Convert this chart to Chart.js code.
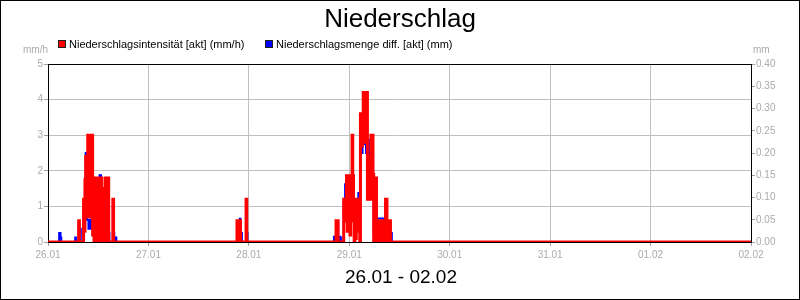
<!DOCTYPE html>
<html>
<head>
<meta charset="utf-8">
<title>Niederschlag</title>
<script src="https://cdn.jsdelivr.net/npm/chart.js@4.4.1/dist/chart.umd.min.js"></script>
<style>
  html, body { margin: 0; padding: 0; background: #fff; }
  #wrap { width: 800px; height: 300px; }
</style>
</head>
<body>
<div id="wrap"><canvas id="rainChart" width="800" height="300"></canvas></div>
<script>
// Niederschlag 26.01 - 02.02, 10-Minuten-Werte (x in Stunden ab 26.01 00:00)

const chartTitle = 'Niederschlag';
const periodLabel = '26.01 - 02.02';
const dayLabels = ['26.01', '27.01', '28.01', '29.01', '30.01', '31.01', '01.02', '02.02'];
const seriesNames = ['Niederschlagsintensität [akt] (mm/h)', 'Niederschlagsmenge diff. [akt] (mm)'];
const STEP_H = 1 / 6;

// Ereignis 1 (26.01 vormittags), ab Messwert 14
const ev1Start = 14;
const ev1Intensity = [
    0, 0, 0, 0, 0, 0, 0, 0, 0, 0, 0, 0, 0, 0, 0, 0, 0, 0, 0, 0, 0, 0, 0, 0, 0, 0, 0, 0, 0, 0,
    0.6, 0, 0, 0, 0, 0, 0,
    1.2, 0.3, 1.75, 2.4, 1.75, 0.7, 3.0, 0.7, 3.0, 1.0, 3.0, 0.7, 3.0, 0.2, 1.8, 0, 1.8, 0.3,
    1.8, 0, 1.8, 0.6, 1.8, 0, 0, 1.8, 0.3, 1.5, 0, 1.5, 0.6, 1.8, 0, 1.8, 0.3, 1.8,
    0, 0, 0, 0, 0, 0, 1.2, 0, 0, 0, 0, 0, 0, 0, 0
];
const ev1Amount = [
    0, 0, 0.02, 0.02, 0.01,
    0, 0, 0, 0, 0, 0, 0, 0, 0, 0, 0, 0, 0, 0, 0, 0, 0, 0, 0, 0,
    0.01, 0, 0, 0, 0, 0.04, 0, 0.03, 0, 0, 0, 0,
    0.08, 0.06, 0.12, 0.2, 0.14, 0.05, 0.05, 0.03, 0.05, 0.03, 0.05, 0.03, 0.05, 0.04, 0.12, 0.1, 0.14, 0.14,
    0.12, 0.08, 0.13, 0.1, 0.12, 0.15, 0.15, 0.12, 0.1, 0.11, 0.08, 0.11, 0.09, 0.13, 0.08, 0.12, 0.06, 0.1,
    0.02, 0, 0, 0, 0, 0, 0.08, 0.02, 0, 0, 0.01, 0, 0, 0, 0
];

// Ereignis 2 (27.01 abends), ab Messwert 268
const ev2Start = 268;
const ev2Intensity = [0, 0, 0, 0.6, 0.1, 0.6, 0, 0.6, 0, 0, 0, 0, 0, 0, 0, 0, 1.2, 0, 0, 0, 0];
const ev2Amount = [0, 0, 0, 0.04, 0.02, 0.04, 0.02, 0.052, 0.02, 0.02, 0, 0, 0, 0, 0, 0, 0.08, 0.02, 0, 0, 0];

// Ereignis 3 (28.01 nachts bis 29.01 vormittags), ab Messwert 408
const ev3Start = 408;
const ev3Intensity = [
    0, 0, 0, 0, 0, 0.6, 0.1, 0.6, 0, 0, 0, 0, 0, 0, 0, 0,
    1.2, 0.6, 1.2, 0.6, 1.86, 0.3, 1.86, 0.6, 1.86, 0.2, 1.86, 1.2, 3.0, 1.86, 0.6, 0, 0.6, 0.1,
    1.2, 0.6, 1.2, 0.3, 0.6, 0, 3.6, 3.6, 2.7, 3.6, 4.2, 2.8, 4.2, 4.2, 3.2, 4.2, 1.2, 2.4, 1.3,
    2.4, 1.2, 3.0, 1.5, 3.0, 1.9, 0, 1.8, 0, 1.8, 0.2, 0.6, 0, 0.6, 0.1, 0.6, 0, 0.6, 0.2, 0.6,
    0, 0.6, 0, 1.2, 1.2, 0.6, 0, 0.6, 0, 0.6,
    0, 0, 0, 0, 0
];
const ev3Amount = [
    0, 0, 0.012, 0, 0, 0.04, 0.02, 0.04, 0, 0, 0.012, 0.01, 0, 0, 0, 0,
    0.09, 0.05, 0.13, 0.13, 0.14, 0.05, 0.14, 0.06, 0.13, 0.04, 0.14, 0.1, 0.2, 0.14, 0.05, 0.02, 0.05, 0.02,
    0.09, 0.05, 0.09, 0.11, 0.08, 0.1, 0.25, 0.26, 0.2, 0.26, 0.26, 0.22, 0.285, 0.22, 0.2, 0.2, 0.23, 0.23, 0.2,
    0.18, 0.1, 0.22, 0.12, 0.22, 0.15, 0.02, 0.13, 0.02, 0.13, 0.03, 0.053, 0.053, 0.053, 0.053, 0.053, 0.053,
    0.053, 0.053, 0.053, 0.02, 0.045, 0.01, 0.09, 0.09, 0.045, 0.01, 0.045, 0.01, 0.045, 0.01, 0.02,
    0, 0, 0
];

const gridColor = '#c0c0c0';
const tickColor = '#a0a0a0';
const labelColor = '#ababab';
const fontFamily = "'Liberation Sans', Arial, sans-serif";

Chart.defaults.font.family = fontFamily;
Chart.defaults.font.size = 10;

// Ereignisse zu einer Reihe zusammensetzen, dazwischen 0
function buildSeries(events) {
    const pts = [{ x: 0, y: 0 }];
    events.forEach(([start, values]) => {
        values.forEach((v, i) => pts.push({ x: (start + i) * STEP_H, y: v }));
    });
    pts.push({ x: (dayLabels.length - 1) * 24, y: 0 });
    return pts;
}

const intensityData = buildSeries([[ev1Start, ev1Intensity], [ev2Start, ev2Intensity], [ev3Start, ev3Intensity]]);
const amountData = buildSeries([[ev1Start, ev1Amount], [ev2Start, ev2Amount], [ev3Start, ev3Amount]]);

const decorPlugin = {
    id: 'decor',
    beforeDatasetsDraw(chart) {
        const { ctx, chartArea: a } = chart;
        ctx.save();
        ctx.strokeStyle = '#000';
        ctx.lineWidth = 1;
        ctx.strokeRect(Math.round(a.left) + 0.5, Math.round(a.top) + 0.5,
            Math.round(a.right - a.left), Math.round(a.bottom - a.top));
        ctx.restore();
    },
    afterDraw(chart) {
        const { ctx, chartArea: a } = chart;
        ctx.save();

        // Titel
        ctx.fillStyle = '#000';
        ctx.textAlign = 'center';
        ctx.textBaseline = 'alphabetic';
        ctx.font = '26px ' + fontFamily;
        ctx.fillText(chartTitle, 400, 27);

        // Zeitraum
        ctx.font = '19px ' + fontFamily;
        ctx.fillText(periodLabel, 401, 283);

        // Legende
        const colors = ['#ff0000', '#0000ff'];
        const legendX = [58, 265];
        ctx.font = '11px ' + fontFamily;
        ctx.textAlign = 'left';
        seriesNames.forEach((name, i) => {
            ctx.fillStyle = colors[i];
            ctx.fillRect(legendX[i], 40, 8, 8);
            ctx.strokeStyle = '#202020';
            ctx.lineWidth = 1;
            ctx.strokeRect(legendX[i] + 0.5, 40.5, 7, 7);
            ctx.fillStyle = '#000';
            ctx.fillText(name, legendX[i] + 11, 48);
        });

        // Einheiten
        ctx.fillStyle = labelColor;
        ctx.font = '10px ' + fontFamily;
        ctx.textAlign = 'right';
        ctx.fillText('mm/h', a.left, 53);
        ctx.textAlign = 'left';
        ctx.fillText('mm', a.right + 2, 53);

        // Rahmen
        ctx.strokeStyle = '#000';
        ctx.lineWidth = 1;
        ctx.strokeRect(0.5, 0.5, chart.width - 1, chart.height - 1);
        ctx.restore();
    }
};

new Chart(document.getElementById('rainChart'), {
    type: 'line',
    data: {
        datasets: [{
            label: seriesNames[0],
            data: intensityData,
            yAxisID: 'y',
            borderColor: '#ff0000',
            borderWidth: 3,
            stepped: true,
            pointRadius: 0,
            fill: false
        }, {
            label: seriesNames[1],
            data: amountData,
            yAxisID: 'y1',
            borderColor: '#0000ff',
            borderWidth: 2,
            stepped: true,
            pointRadius: 0,
            fill: false
        }]
    },
    options: {
        responsive: false,
        animation: false,
        events: [],
        layout: { padding: { top: 64, left: 0, right: 0, bottom: 0 } },
        plugins: {
            legend: { display: false },
            title: { display: false },
            tooltip: { enabled: false }
        },
        scales: {
            x: {
                type: 'linear',
                min: 0,
                max: (dayLabels.length - 1) * 24,
                afterFit: (s) => { s.height = 58; },
                ticks: {
                    stepSize: 24,
                    autoSkip: false,
                    maxRotation: 0,
                    color: labelColor,
                    padding: 3,
                    callback: (v) => dayLabels[Math.round(v / 24)]
                },
                grid: { color: gridColor, tickColor: tickColor, tickLength: 4 },
                border: { display: false }
            },
            y: {
                position: 'left',
                min: 0,
                max: 5,
                afterFit: (s) => { s.width = 48; },
                ticks: { stepSize: 1, color: labelColor, padding: 1 },
                grid: { color: gridColor, tickColor: tickColor, tickLength: 4 },
                border: { display: false }
            },
            y1: {
                position: 'right',
                min: 0,
                max: 0.4,
                afterFit: (s) => { s.width = 49; },
                ticks: { stepSize: 0.05, color: labelColor, padding: 1, callback: (v) => v.toFixed(2) },
                grid: { drawOnChartArea: false, tickColor: tickColor, tickLength: 4 },
                border: { display: false }
            }
        }
    },
    plugins: [decorPlugin]
});
</script>
</body>
</html>
